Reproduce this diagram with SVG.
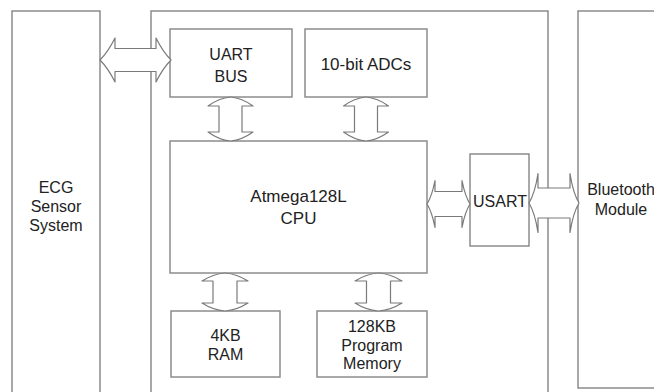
<svg xmlns="http://www.w3.org/2000/svg" width="654" height="392" viewBox="0 0 654 392">
<style>
.box{fill:#fff;stroke:#8c8c8c;stroke-width:1.5}
.frame{fill:none;stroke:#8c8c8c;stroke-width:1.5}
.arr{fill:#fff;stroke:#7a7a7a;stroke-width:1.2;stroke-linejoin:round}
text{font-family:"Liberation Sans",Arial,sans-serif;font-size:16px;fill:#222;text-anchor:middle}
</style>
<rect x="0" y="0" width="654" height="392" fill="#fff"/>
<g id="ecg">
<path class="frame" d="M12,394 L12,11 L100,11 L100,394"/>
<text x="56" y="193">ECG</text>
<text x="56" y="212">Sensor</text>
<text x="56" y="231">System</text>
</g>
<g id="mcu">
<path class="frame" d="M151,394 L151,11 L548,11 L548,394"/>
</g>
<g id="bluetooth">
<path class="frame" d="M660,388 L578,388 L578,11 L660,11"/>
<text x="621" y="195">Bluetooth</text>
<text x="621" y="215">Module</text>
</g>
<g id="uart">
<rect class="box" x="170" y="29" width="122" height="68"/>
<text x="231" y="60">UART</text>
<text x="231" y="82">BUS</text>
</g>
<g id="adc">
<rect class="box" x="305" y="29" width="122" height="68"/>
<text x="366" y="70" style="font-size:17px">10-bit ADCs</text>
</g>
<g id="cpu">
<rect class="box" x="170" y="141" width="257" height="132"/>
<text x="298.5" y="202" style="font-size:17px">Atmega128L</text>
<text x="298.5" y="224" style="font-size:17px">CPU</text>
</g>
<g id="usart">
<rect class="box" x="470" y="154" width="59" height="92"/>
<text x="500" y="207">USART</text>
</g>
<g id="ram">
<rect class="box" x="171" y="311" width="109" height="66"/>
<text x="225.5" y="341">4KB</text>
<text x="225.5" y="360">RAM</text>
</g>
<g id="progmem">
<rect class="box" x="317" y="311" width="110" height="66"/>
<text x="372" y="332">128KB</text>
<text x="372" y="351">Program</text>
<text x="372" y="369">Memory</text>
</g>
<g id="connectors">
<path class="arr" d="M100,60 Q108,52 115,38 L115,48.5 L156,48.5 L156,38 Q163,52 171,60 Q163,68 156,82 L156,71.5 L115,71.5 L115,82 Q108,68 100,60 Z"/>
<path class="arr" d="M427,204 Q432,196 435,180.5 L435,191.5 L462,191.5 L462,180.5 Q465,196 470,204 Q465,212 462,227.5 L462,216.5 L435,216.5 L435,227.5 Q432,212 427,204 Z"/>
<path class="arr" d="M529,203 Q535,193 538,173.5 L538,188 L570,188 L570,173.5 Q573,193 579,203 Q573,213 570,232.5 L570,218 L538,218 L538,232.5 Q535,213 529,203 Z"/>
<path class="arr" d="M230.5,97 Q219,98 208,106 L219,106 L219,132 L208,132 Q219,140 230.5,141 Q242,140 253,132 L242,132 L242,106 L253,106 Q242,98 230.5,97 Z"/>
<path class="arr" d="M366,97 Q354.5,98 343.5,106 L354.5,106 L354.5,132 L343.5,132 Q354.5,140 366,141 Q377.5,140 388.5,132 L377.5,132 L377.5,106 L388.5,106 Q377.5,98 366,97 Z"/>
<path class="arr" d="M225,273 Q213,274 202,281 L213,281 L213,303 L202,303 Q213,310 225,311 Q237,310 248,303 L237,303 L237,281 L248,281 Q237,274 225,273 Z"/>
<path class="arr" d="M378.5,273 Q366,274 355,281 L366.5,281 L366.5,303 L355,303 Q366,310 378.5,311 Q391,310 402,303 L390.5,303 L390.5,281 L402,281 Q391,274 378.5,273 Z"/>
</g>
</svg>
